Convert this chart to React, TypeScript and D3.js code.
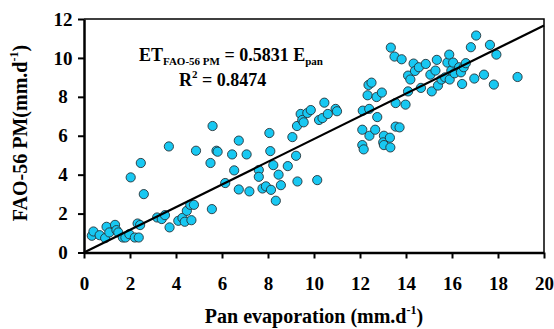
import React, { useRef, useEffect } from "react";
import * as d3 from "d3";

// pan evaporation (x) and FAO-56 PM (y)
const panEvap: number[] = [
  0.34, 0.41, 0.68, 0.92, 0.98, 1.1, 1.35, 1.41, 1.49, 1.69, 1.8, 1.97, 2.21, 2.38, 2.33, 2.44,
  2.03, 2.47, 2.6, 3.18, 3.38, 3.52, 3.72, 3.69, 4.1, 4.28, 4.38, 4.47, 4.62, 4.78, 4.67, 4.87,
  5.5, 5.56, 5.59, 5.76, 5.81, 6.14, 6.44, 6.53, 6.73, 6.73, 7.07, 7.19, 7.6, 7.6, 7.76, 7.91,
  8.06, 8.1, 8.13, 8.23, 8.34, 8.46, 8.56, 8.86, 9.06, 9.22, 9.26, 9.28, 9.42, 9.49, 9.55, 9.71,
  9.86, 10.14, 10.22, 10.37, 10.45, 10.6, 10.94, 11.0,
  12.1, 12.1, 12.16, 12.12, 12.33, 12.37, 12.5, 12.4, 12.41, 12.66, 12.72, 12.75, 12.95, 13.04,
  13.01, 13.04, 13.3, 13.32, 13.34, 13.5, 13.55, 13.55, 13.72, 13.81, 13.98, 14.09, 14.09, 14.19,
  14.33, 14.39, 14.56, 14.65, 14.86, 15.06, 15.12, 15.28, 15.34, 15.39, 15.54, 15.7, 15.8, 15.88,
  15.9, 15.97, 16.05, 16.11, 16.31, 16.39, 16.44, 16.51, 16.6, 16.82, 16.97, 17.05, 17.39, 17.65,
  17.82, 17.93, 18.85,
];
const faoPM: number[] = [
  0.86, 1.08, 0.89, 0.74, 1.32, 1.03, 1.42, 1.15, 1.03, 0.77, 0.77, 0.94, 0.77, 0.77, 1.49, 1.41,
  3.86, 4.6, 3.0, 1.8, 1.72, 1.92, 1.29, 5.45, 1.63, 1.78, 1.58, 2.14, 2.45, 2.45, 1.66, 5.23,
  4.6, 2.23, 6.5, 5.23, 5.18, 3.57, 5.04, 4.22, 5.75, 3.24, 5.04, 3.14, 4.24, 3.89, 3.29, 3.4,
  6.14, 5.21, 3.22, 4.49, 2.66, 4.0, 3.46, 4.44, 5.93, 4.97, 6.5, 3.65, 7.12, 6.81, 6.69, 7.17,
  7.32, 3.72, 6.81, 6.91, 7.7, 7.12, 7.38, 7.26,
  6.31, 5.52, 5.3, 7.29, 8.08, 8.61, 8.73, 7.38, 6.0, 6.31, 7.99, 6.96, 8.22, 6.0,
  5.66, 5.52, 5.9, 5.4, 10.53, 10.07, 7.68, 6.47, 6.43, 9.93, 7.6, 8.28, 9.09, 8.89,
  9.71, 9.33, 9.52, 8.46, 9.69, 9.14, 8.28, 9.35, 9.9, 8.58, 8.89, 9.0, 9.76, 10.17,
  8.89, 9.35, 9.76, 9.21, 9.52, 9.26, 8.66, 9.52, 9.73, 10.55, 8.94, 11.15, 9.14, 10.67,
  8.63, 10.17, 9.02,
];
const slope = 0.5831;
const xTicks = [0, 2, 4, 6, 8, 10, 12, 14, 16, 18, 20];
const yTicks = [0, 2, 4, 6, 8, 10, 12];

const font = "Liberation Serif, Times New Roman, Times, serif";

function App() {
  const svgRef = useRef<SVGSVGElement>(null);

  useEffect(() => {
    const svg = d3.select(svgRef.current);
    svg.selectAll("*").remove();

    const x = d3.scaleLinear().domain([0, 20]).range([84, 544]);
    const y = d3.scaleLinear().domain([0, 12]).range([252.5, 19]);

    // frame top + right
    svg.append("path")
      .attr("d", `M${x(0)},${y(12)}H${x(20)}V${y(0)}`)
      .attr("fill", "none")
      .attr("stroke", "#000")
      .attr("stroke-width", 1.5);

    // x axis
    const xAxis = svg.append("g")
      .attr("transform", `translate(0,${y(0)})`)
      .call(d3.axisBottom(x).tickValues(xTicks).tickSize(6).tickSizeOuter(0).tickPadding(18));
    xAxis.attr("font-family", null).attr("font-size", null);
    xAxis.select(".domain").attr("stroke-width", 2.5);
    xAxis.selectAll(".tick line").attr("stroke-width", 2);
    xAxis.selectAll("text")
      .style("font-family", font).style("font-weight", "bold").style("font-size", "19px").attr("fill", "#000");

    // y axis
    const yAxis = svg.append("g")
      .attr("transform", `translate(${x(0)},0)`)
      .call(d3.axisLeft(y).tickValues(yTicks).tickSize(6).tickSizeOuter(0).tickPadding(12));
    yAxis.attr("font-family", null).attr("font-size", null);
    yAxis.select(".domain").attr("stroke-width", 2.5);
    yAxis.selectAll(".tick line").attr("stroke-width", 2);
    yAxis.selectAll("text")
      .style("font-family", font).style("font-weight", "bold").style("font-size", "19px").attr("fill", "#000")
      .attr("text-anchor", "middle").attr("x", 63 - x(0));

    // points
    const pts = panEvap.map((v, i) => ({ e: v, f: faoPM[i] }));
    svg.append("g")
      .selectAll("circle")
      .data(pts)
      .join("circle")
      .attr("cx", (d) => x(d.e))
      .attr("cy", (d) => y(d.f))
      .attr("r", 4.6)
      .attr("fill", "#18c8f2")
      .attr("stroke", "#263238")
      .attr("stroke-width", 0.9);

    // regression line
    svg.append("line")
      .attr("x1", x(0)).attr("y1", y(0))
      .attr("x2", x(20)).attr("y2", y(slope * 20))
      .attr("stroke", "#000")
      .attr("stroke-width", 2.2);

    const txt = (sel: any, size: number) =>
      sel.style("font-family", font).style("font-weight", "bold").style("font-size", size + "px");

    // equation
    const eq = txt(svg.append("text").attr("x", 139).attr("y", 61), 18);
    eq.append("tspan").text("ET");
    eq.append("tspan").style("font-size", "11px").attr("dy", 4).text("FAO-56 PM");
    eq.append("tspan").attr("dy", -4).text(" = 0.5831 E");
    eq.append("tspan").style("font-size", "11px").attr("dy", 4).text("pan");

    const r2 = txt(svg.append("text").attr("x", 179).attr("y", 86), 18);
    r2.append("tspan").text("R");
    r2.append("tspan").style("font-size", "11px").attr("dy", -8).text("2");
    r2.append("tspan").attr("dy", 8).text(" = 0.8474");

    // axis titles
    const xt = txt(svg.append("text").attr("x", 314).attr("y", 323).attr("text-anchor", "middle"), 20);
    xt.append("tspan").text("Pan evaporation (mm.d");
    xt.append("tspan").style("font-size", "12px").attr("dy", -9).text("-1");
    xt.append("tspan").attr("dy", 9).text(")");

    const yt = txt(svg.append("text")
      .attr("transform", `translate(27,133) rotate(-90)`)
      .attr("text-anchor", "middle"), 20);
    yt.append("tspan").text("FAO-56 PM(mm.d");
    yt.append("tspan").style("font-size", "12px").attr("dy", -9).text("-1");
    yt.append("tspan").attr("dy", 9).text(")");
  }, []);

  return (
    <svg
      ref={svgRef}
      width={554}
      height={329}
      style={{ position: "absolute", left: 0, top: 0, background: "#fff" }}
    />
  );
}

export default App;
